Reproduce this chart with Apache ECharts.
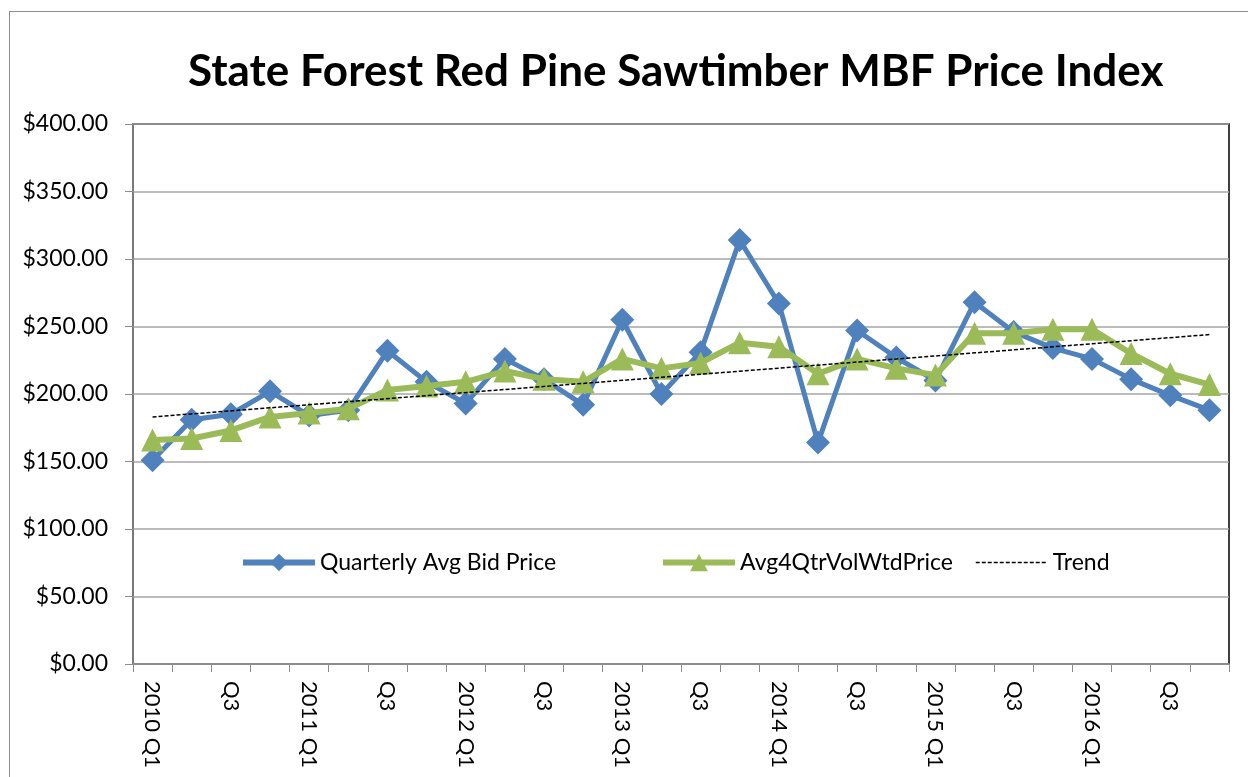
<!DOCTYPE html>
<html>
<head>
<meta charset="utf-8">
<title>State Forest Red Pine Sawtimber MBF Price Index</title>
<script src="https://cdn.jsdelivr.net/npm/echarts@6/dist/echarts.min.js"></script>
<style>
    html, body { margin: 0; padding: 0; background: #ffffff; }
    #frame {
        position: absolute; left: 9px; top: 11px; width: 1260px; height: 790px;
        border: 1.5px solid #8c8c8c; box-sizing: border-box;
    }
    #priceChart { position: absolute; left: 0; top: 0; width: 1248px; height: 777px; }
</style>
</head>
<body>
<div id="frame"></div>
<div id="priceChart"></div>
<script>
// categorias (trimestres)
const quarters = [
    '2010 Q1', 'Q2', 'Q3', 'Q4',
    '2011 Q1', 'Q2', 'Q3', 'Q4',
    '2012 Q1', 'Q2', 'Q3', 'Q4',
    '2013 Q1', 'Q2', 'Q3', 'Q4',
    '2014 Q1', 'Q2', 'Q3', 'Q4',
    '2015 Q1', 'Q2', 'Q3', 'Q4',
    '2016 Q1', 'Q2', 'Q3', 'Q4'
];

// precio promedio trimestral
const avgBidPrice = [
    151, 181, 185, 202,
    184, 188, 232, 209,
    193, 226, 211, 192,
    255, 200, 231, 314,
    267, 164, 247, 227,
    210, 268, 246, 234,
    226, 211, 199, 188
];

// promedio 4 trimestres ponderado por volumen
const avg4QtrVolWtd = [
    166, 167, 173, 183,
    186, 189, 203, 206,
    209, 217, 211, 209,
    226, 219, 223, 238,
    235, 215, 226, 219,
    214, 245, 245, 248,
    248, 230, 215, 207
];

// linea de tendencia: extremos
const trendStart = 183;
const trendEnd = 244;
const trendData = quarters.map((q, i) =>
    i === 0 ? trendStart : (i === quarters.length - 1 ? trendEnd : null));

const yTicks = { min: 0, max: 400, step: 50 };

const FONT = 'Lato, "Open Sans", sans-serif';

const chartDom = document.getElementById('priceChart');
const priceChart = echarts.init(chartDom);

const legendBase = {
    orient: 'horizontal',
    top: 551,
    padding: 0,
    itemWidth: 72,
    itemHeight: 22,
    itemGap: 6,
    textStyle: { fontFamily: FONT, fontSize: 23, color: '#000000' }
};

const option = {
    animation: false,
    title: {
        text: 'State Forest Red Pine Sawtimber MBF Price Index',
        left: 188,
        top: 50,
        padding: 0,
        textStyle: { fontFamily: FONT, fontSize: 44, fontWeight: 'bold', color: '#000000' }
    },
    legend: [
        Object.assign({}, legendBase, {
            left: 240, data: ['Quarterly Avg Bid Price'],
            lineStyle: { width: 6 }
        }),
        Object.assign({}, legendBase, {
            left: 660, data: ['Avg4QtrVolWtdPrice'],
            lineStyle: { width: 6 }
        }),
        Object.assign({}, legendBase, {
            left: 975, data: ['Trend'],
            itemStyle: { opacity: 0 },
            lineStyle: { width: 1.5 }
        })
    ],
    grid: {
        left: 133,
        right: 19,
        top: 124,
        bottom: 113,
        show: true,
        borderColor: '#000000',
        borderWidth: 1.5,
        containLabel: false
    },
    xAxis: {
        type: 'category',
        data: quarters,
        boundaryGap: true,
        axisLine: { lineStyle: { color: '#8c8c8c', width: 1.5 } },
        axisTick: { show: true, interval: 0, length: 8, lineStyle: { color: '#8c8c8c' } },
        axisLabel: {
            interval: 1,
            rotate: -90,
            margin: 17,
            fontFamily: FONT,
            fontSize: 22,
            color: '#000000'
        },
        splitLine: { show: false }
    },
    yAxis: {
        type: 'value',
        min: yTicks.min,
        max: yTicks.max,
        interval: yTicks.step,
        axisLine: { show: true, lineStyle: { color: '#8c8c8c', width: 1.5 } },
        axisTick: { show: true, inside: false, length: 8, lineStyle: { color: '#8c8c8c' } },
        axisLabel: {
            formatter: (v) => '$' + v.toFixed(2),
            fontFamily: FONT,
            fontSize: 23,
            color: '#000000',
            margin: 25
        },
        splitLine: { lineStyle: { color: '#a6a6a6', width: 1.5 } }
    },
    series: [
        {
            name: 'Quarterly Avg Bid Price',
            type: 'line',
            data: avgBidPrice,
            symbol: 'diamond',
            symbolSize: 24,
            lineStyle: { width: 5, color: '#4f81bd' },
            itemStyle: { color: '#4f81bd' },
            z: 2
        },
        {
            name: 'Avg4QtrVolWtdPrice',
            type: 'line',
            data: avg4QtrVolWtd,
            symbol: 'triangle',
            symbolSize: 23,
            lineStyle: { width: 6, color: '#9bbb59' },
            itemStyle: { color: '#9bbb59' },
            z: 3
        },
        {
            name: 'Trend',
            type: 'line',
            data: trendData,
            connectNulls: true,
            symbol: 'none',
            lineStyle: { width: 1.5, color: '#000000', type: [4, 2] },
            itemStyle: { color: '#000000' },
            z: 4
        }
    ]
};

priceChart.setOption(option);

window.addEventListener('resize', function() {
    priceChart.resize();
});
</script>
</body>
</html>
